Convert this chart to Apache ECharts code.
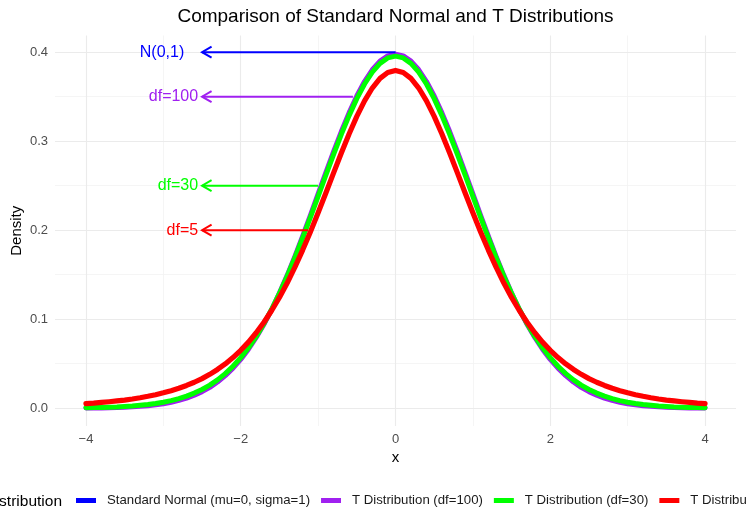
<!DOCTYPE html>
<html>
<head>
<meta charset="utf-8">
<script src="https://cdn.jsdelivr.net/npm/echarts@6/dist/echarts.min.js"></script>
<style>
html,body{margin:0;padding:0;background:#fff;}
#c{width:746px;height:510px;}
</style>
</head>
<body>
<div id="c"></div>
<script>
const xs = [-4,-3.9,-3.8,-3.7,-3.6,-3.5,-3.4,-3.3,-3.2,-3.1,-3,-2.9,-2.8,-2.7,-2.6,-2.5,-2.4,-2.3,-2.2,-2.1,-2,-1.9,-1.8,-1.7,-1.6,-1.5,-1.4,-1.3,-1.2,-1.1,-1,-0.9,-0.8,-0.7,-0.6,-0.5,-0.4,-0.3,-0.2,-0.1,0,0.1,0.2,0.3,0.4,0.5,0.6,0.7,0.8,0.9,1,1.1,1.2,1.3,1.4,1.5,1.6,1.7,1.8,1.9,2,2.1,2.2,2.3,2.4,2.5,2.6,2.7,2.8,2.9,3,3.1,3.2,3.3,3.4,3.5,3.6,3.7,3.8,3.9,4];

const normalY = [0.0001,0.0002,0.0003,0.0004,0.0006,0.0009,0.0012,0.0017,0.0024,0.0033,0.0044,0.0060,0.0079,0.0104,0.0136,0.0175,0.0224,0.0283,0.0355,0.0440,0.0540,0.0656,0.0790,0.0940,0.1109,0.1295,0.1497,0.1714,0.1942,0.2179,0.2420,0.2661,0.2897,0.3123,0.3332,0.3521,0.3683,0.3814,0.3910,0.3970,
0.3989,0.3970,0.3910,0.3814,0.3683,0.3521,0.3332,0.3123,0.2897,0.2661,0.2420,0.2179,0.1942,0.1714,0.1497,0.1295,0.1109,0.0940,0.0790,0.0656,0.0540,0.0440,0.0355,0.0283,0.0224,0.0175,0.0136,0.0104,0.0079,0.0060,0.0044,0.0033,0.0024,0.0017,0.0012,0.0009,0.0006,0.0004,0.0003,0.0002,0.0001];

const t100Y = [0.0002,0.0003,0.0004,0.0006,0.0008,0.0012,0.0016,0.0022,0.0029,0.0039,0.0051,0.0067,0.0088,0.0114,0.0146,0.0186,0.0235,0.0295,0.0366,0.0450,0.0549,0.0664,0.0795,0.0944,0.1110,0.1294,0.1493,0.1707,0.1933,0.2168,0.2408,0.2648,0.2883,0.3109,0.3319,0.3508,0.3671,0.3803,0.3900,0.3959,
0.3979,0.3959,0.3900,0.3803,0.3671,0.3508,0.3319,0.3109,0.2883,0.2648,0.2408,0.2168,0.1933,0.1707,0.1493,0.1294,0.1110,0.0944,0.0795,0.0664,0.0549,0.0450,0.0366,0.0295,0.0235,0.0186,0.0146,0.0114,0.0088,0.0067,0.0051,0.0039,0.0029,0.0022,0.0016,0.0012,0.0008,0.0006,0.0004,0.0003,0.0002];

const t30Y = [0.0005,0.0007,0.0009,0.0012,0.0015,0.0020,0.0025,0.0033,0.0042,0.0053,0.0068,0.0086,0.0108,0.0136,0.0170,0.0211,0.0260,0.0319,0.0389,0.0472,0.0569,0.0680,0.0807,0.0951,0.1112,0.1290,0.1483,0.1692,0.1913,0.2144,0.2380,0.2618,0.2852,0.3078,0.3288,0.3479,0.3643,0.3777,0.3875,0.3936,
0.3956,0.3936,0.3875,0.3777,0.3643,0.3479,0.3288,0.3078,0.2852,0.2618,0.2380,0.2144,0.1913,0.1692,0.1483,0.1290,0.1112,0.0951,0.0807,0.0680,0.0569,0.0472,0.0389,0.0319,0.0260,0.0211,0.0170,0.0136,0.0108,0.0086,0.0068,0.0053,0.0042,0.0033,0.0025,0.0020,0.0015,0.0012,0.0009,0.0007,0.0005];

const t5Y = [0.0051,0.0057,0.0065,0.0073,0.0082,0.0092,0.0104,0.0118,0.0134,0.0152,0.0173,0.0197,0.0224,0.0256,0.0292,0.0333,0.0381,0.0436,0.0498,0.0569,0.0651,0.0743,0.0848,0.0966,0.1098,0.1245,0.1407,0.1585,0.1777,0.1981,0.2197,0.2419,0.2645,0.2868,0.3081,0.3279,0.3454,0.3598,0.3706,0.3773,
0.3796,0.3773,0.3706,0.3598,0.3454,0.3279,0.3081,0.2868,0.2645,0.2419,0.2197,0.1981,0.1777,0.1585,0.1407,0.1245,0.1098,0.0966,0.0848,0.0743,0.0651,0.0569,0.0498,0.0436,0.0381,0.0333,0.0292,0.0256,0.0224,0.0197,0.0173,0.0152,0.0134,0.0118,0.0104,0.0092,0.0082,0.0073,0.0065,0.0057,0.0051];

const seriesNames = ['Standard Normal (mu=0, sigma=1)','T Distribution (df=100)','T Distribution (df=30)','T Distribution (df=5)'];
const seriesColors = ['#0000FF','#A020F0','#00FF00','#FF0000'];

const xMajorTicks = [-4,-2,0,2,4];
const xMinorTicks = [-3,-1,1,3];
const yMajorTicks = [0,0.1,0.2,0.3,0.4];
const yMinorTicks = [0.05,0.15,0.25,0.35];

// annotations: label, arrow y, arrow tail x (at curve), arrow tip x, label x (right edge)
const annLabels = ['N(0,1)','df=100','df=30','df=5'];
const annY = [0.4,0.35,0.25,0.2];
const annTailX = [0,-0.55,-1.0,-1.13];
const annTipX = [-2.5,-2.5,-2.5,-2.5];
const annLabelX = [-2.73,-2.55,-2.55,-2.55];
const annColors = ['#0000FF','#A020F0','#00FF00','#FF0000'];

const FONT = 'Liberation Sans, Arial, Helvetica, sans-serif';
const chart = echarts.init(document.getElementById('c'), null, {renderer:'canvas'});

function pairs(ys){ return xs.map((x,i)=>[x, ys[i]]); }
const majorStyle = {color:'#ebebeb', width:1.1, type:'solid'};
const minorStyle = {color:'#f3f3f3', width:0.8, type:'solid'};

const gridLines = [].concat(
  xMinorTicks.map(v=>({xAxis:v, lineStyle:minorStyle})),
  yMinorTicks.map(v=>({yAxis:v, lineStyle:minorStyle})),
  xMajorTicks.map(v=>({xAxis:v, lineStyle:majorStyle})),
  yMajorTicks.map(v=>({yAxis:v, lineStyle:majorStyle}))
);

const widths = [1.2, 5, 5, 5.2];
const zs = [10, 11, 12, 13];

const option = {
  animation:false,
  backgroundColor:'#ffffff',
  textStyle:{fontFamily:FONT},
  grid:{left:55, right:10, top:35.5, bottom:84, containLabel:false, outerBoundsMode:'none'},
  xAxis:{
    type:'value', min:-4.4, max:4.4,
    name:'x', nameLocation:'middle', nameGap:24, nameMoveOverlap:false,
    nameTextStyle:{fontSize:15, color:'#000', fontFamily:FONT},
    axisLine:{show:false}, axisTick:{show:false}, splitLine:{show:false},
    axisLabel:{customValues:xMajorTicks, color:'#4d4d4d', fontSize:13, margin:7, fontFamily:FONT,
      formatter:v=> v<0 ? '\u2212'+Math.abs(v) : String(v)}
  },
  yAxis:{
    type:'value', min:-0.01995, max:0.4188,
    name:'Density', nameLocation:'middle', nameGap:31, nameRotate:90, nameMoveOverlap:false,
    nameTextStyle:{fontSize:15, color:'#000', fontFamily:FONT},
    axisLine:{show:false}, axisTick:{show:false}, splitLine:{show:false},
    axisLabel:{customValues:yMajorTicks, color:'#4d4d4d', fontSize:13, margin:7, fontFamily:FONT,
      formatter:v=> Number(v).toFixed(1)}
  },
  legend:{
    data:seriesNames,
    left:71, top:489, width:2000, orient:'horizontal',
    icon:'rect', itemWidth:20, itemHeight:5, itemGap:11,
    textStyle:{fontSize:13.2, color:'#1a1a1a', fontFamily:FONT, padding:[0,0,0,6]},
    selectedMode:false
  },
  graphic:[
    {type:'text', x:395.5, y:17, z:10,
     style:{text:'Comparison of Standard Normal and T Distributions', fontSize:19, fontFamily:FONT, fill:'#000', align:'center', verticalAlign:'middle'}},
    {type:'text', x:62, y:502, z:10,
     style:{text:'Distribution', fontSize:15.5, fontFamily:FONT, fill:'#000', align:'right', verticalAlign:'middle'}}
  ],
  series:[
    {type:'line', data:[], silent:true, z:0,
     markLine:{z:0, silent:true, symbol:['none','none'], label:{show:false}, animation:false, data:gridLines}},
  ].concat([normalY,t100Y,t30Y,t5Y].map((ys,i)=>({
    name:seriesNames[i], type:'line', data:pairs(ys), showSymbol:false, symbol:'none',
    smooth:false, z:zs[i], color:seriesColors[i],
    itemStyle:{color:seriesColors[i]},
    lineStyle:{color:seriesColors[i], width:widths[i], cap:'round', join:'round'}
  }))).concat([{
    type:'custom', coordinateSystem:'cartesian2d', z:20, silent:true, clip:false,
    data: annY.map((y,i)=>[annTipX[i], y]),
    renderItem:function(params, api){
      const i = params.dataIndex;
      const tip = api.coord([annTipX[i], annY[i]]);
      const tail = api.coord([annTailX[i], annY[i]]);
      const lab = api.coord([annLabelX[i], annY[i]]);
      const L = 11, ang = Math.PI/6;
      const dx = L*Math.cos(ang), dy = L*Math.sin(ang);
      const col = annColors[i];
      return {type:'group', children:[
        {type:'line', shape:{x1:tail[0], y1:tail[1], x2:tip[0], y2:tip[1]}, style:{stroke:col, lineWidth:2}},
        {type:'polyline', shape:{points:[[tip[0]+dx, tip[1]-dy],[tip[0], tip[1]],[tip[0]+dx, tip[1]+dy]]}, style:{stroke:col, lineWidth:2, fill:null, lineJoin:'miter'}},
        {type:'text', x:lab[0], y:lab[1], style:{text:annLabels[i], fill:col, fontSize:16, fontFamily:FONT, align:'right', verticalAlign:'middle'}}
      ]};
    }
  }])
};
chart.setOption(option);
</script>
</body>
</html>
